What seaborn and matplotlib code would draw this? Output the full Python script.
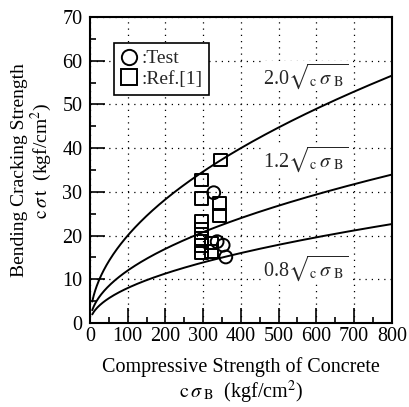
import numpy as np
import pandas as pd
import matplotlib
matplotlib.use("Agg")
import matplotlib.pyplot as plt
from matplotlib.lines import Line2D
from matplotlib.ticker import MultipleLocator
import seaborn as sns

# Measured specimens
test_x = [328, 337, 353, 360]
test_y = [29.8, 18.6, 17.8, 15.1]

# Reference data
ref_x = [346, 296, 296, 344, 344, 296, 296, 296, 296, 296, 322, 322]
ref_y = [37.3, 32.7, 28.5, 27.4, 24.5, 23.2, 21.5, 19.4, 17.8, 16.0, 18.3, 16.3]

# Design equations k * sqrt(cσB)
coefs = [2.0, 1.2, 0.8]
coef_labels = ["2.0", "1.2", "0.8"]
label_pos = [(458, 56.5), (458, 37.5), (458, 12.5)]

x_ticks = [0, 100, 200, 300, 400, 500, 600, 700, 800]
y_ticks = [0, 10, 20, 30, 40, 50, 60, 70]

sns.set_theme(style="white")
plt.rcParams["font.family"] = ["Liberation Serif", "DejaVu Serif"]
plt.rcParams["mathtext.fontset"] = "stix"

fig = plt.figure(figsize=(4.09, 4.07), dpi=100)
ax = fig.add_axes([0.220, 0.2064, 0.738, 0.752])

xs = np.linspace(6, 800, 400)
curves = pd.concat(
    [pd.DataFrame({"x": xs, "y": k * np.sqrt(xs), "k": lab}) for k, lab in zip(coefs, coef_labels)]
)
sns.lineplot(data=curves, x="x", y="y", units="k", estimator=None,
             color="black", linewidth=1.4, ax=ax, zorder=3)

sns.scatterplot(x=ref_x, y=ref_y, marker="s", s=85, facecolor="none",
                edgecolor="black", linewidth=1.4, ax=ax, zorder=4)
sns.scatterplot(x=test_x, y=test_y, marker="o", s=85, facecolor="none",
                edgecolor="black", linewidth=1.4, ax=ax, zorder=5)

for lab, (tx, ty) in zip(coef_labels, label_pos):
    ax.text(tx, ty, lab + r"$\sqrt{{}_{\rm c}\,\sigma\;{}_{\rm B}}$", fontsize=14.5,
            ha="left", va="center", zorder=6,
            bbox=dict(facecolor="white", edgecolor="none", pad=0.5))

ax.set_xlim(0, 800)
ax.set_ylim(0, 70)
ax.set_xticks(x_ticks)
ax.set_yticks(y_ticks)
ax.xaxis.set_minor_locator(MultipleLocator(50))
ax.yaxis.set_minor_locator(MultipleLocator(5))
ax.tick_params(axis="both", which="major", direction="in", length=11, width=1.2,
               color="black", labelsize=14.5, labelcolor="black")
ax.tick_params(axis="both", which="minor", direction="in", length=4, width=1.2, color="black")
ax.tick_params(axis="x", which="both", pad=3, top=False, bottom=True)
ax.tick_params(axis="y", which="both", pad=5.5, right=False, left=True)

ax.grid(True, which="major", color="black", linestyle=(0, (1, 4)), linewidth=0.9)
ax.set_axisbelow(True)
for s in ax.spines.values():
    s.set_visible(True)
    s.set_color("black")
    s.set_linewidth(1.5)

ax.set_xlabel("Compressive Strength of Concrete\n" + r"${\rm c}\,\sigma\,{}_{\rm B}$  (kgf/cm$^2$)",
              fontsize=14.5, color="black", labelpad=8, linespacing=1.1)
ax.set_ylabel("Bending Cracking Strength\n    " + r"${\rm c}\,\sigma\,{\rm t}$  (kgf/cm$^2$)",
              fontsize=14, color="black", labelpad=6, linespacing=1.05)

handles = [
    Line2D([], [], marker="o", linestyle="none", markersize=11, markerfacecolor="none",
           markeredgecolor="black", markeredgewidth=1.4),
    Line2D([], [], marker="s", linestyle="none", markersize=11, markerfacecolor="none",
           markeredgecolor="black", markeredgewidth=1.4),
]
leg = ax.legend(handles, [":Test", ":Ref.[1]"], loc="upper left",
                bbox_to_anchor=(0.08, 0.915), fontsize=14, frameon=True, fancybox=False,
                handlelength=0.8, handletextpad=0.25, borderpad=0.35, labelspacing=0.15,
                borderaxespad=0)
leg.get_frame().set_edgecolor("black")
leg.get_frame().set_linewidth(1.2)
leg.get_frame().set_facecolor("white")
leg.get_frame().set_alpha(1)
leg.set_zorder(7)

fig.savefig("out.png", dpi=100)
